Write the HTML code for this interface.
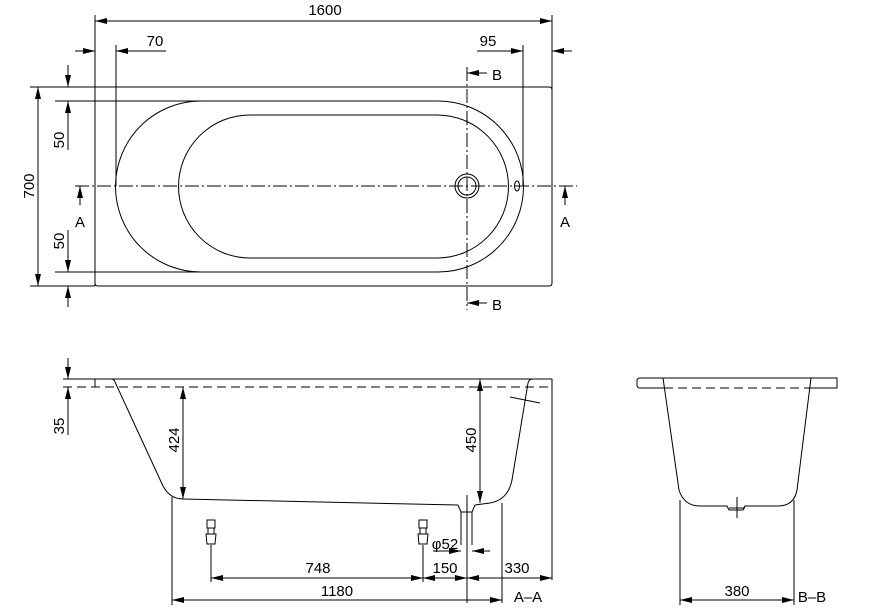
<!DOCTYPE html>
<html><head><meta charset="utf-8"><style>
html,body{margin:0;padding:0;background:#fff;}
svg{display:block;}
text{font-family:"Liberation Sans",sans-serif;font-size:15px;fill:#000;}
</style></head><body>
<svg width="883" height="610" viewBox="0 0 883 610" xmlns="http://www.w3.org/2000/svg">
<defs>
<marker id="a" viewBox="0 0 12 6" refX="12" refY="3" markerWidth="12" markerHeight="6" orient="auto-start-reverse" markerUnits="userSpaceOnUse"><path d="M0,0L12,3L0,6z" fill="#000"/></marker>
</defs>
<g stroke="#000" stroke-width="1" fill="none">
<!-- TOP VIEW -->
<line x1="95" y1="15" x2="95" y2="286"/>
<line x1="552" y1="15" x2="552" y2="270"/>
<line x1="95" y1="21" x2="552" y2="21" marker-start="url(#a)" marker-end="url(#a)"/>
<line x1="75" y1="51" x2="95" y2="51" marker-end="url(#a)"/>
<line x1="166" y1="51" x2="116" y2="51" marker-end="url(#a)"/>
<line x1="116" y1="45" x2="116" y2="186"/>
<line x1="477" y1="51" x2="523" y2="51" marker-end="url(#a)"/>
<line x1="572" y1="51" x2="552" y2="51" marker-end="url(#a)"/>
<line x1="523" y1="45" x2="523" y2="186"/>
<path d="M95,87H549Q552,87 552,90V283Q552,286 549,286H98Q95,286 95,283Z"/>
<line x1="467" y1="67" x2="467" y2="310" stroke-dasharray="14,3,2,3"/>
<line x1="487" y1="73" x2="467" y2="73" marker-end="url(#a)"/>
<line x1="487" y1="303" x2="467" y2="303" marker-end="url(#a)"/>
<line x1="30" y1="87" x2="95" y2="87"/>
<line x1="30" y1="286" x2="95" y2="286"/>
<line x1="38" y1="87" x2="38" y2="286" marker-start="url(#a)" marker-end="url(#a)"/>
<line x1="55" y1="101" x2="200" y2="101"/>
<line x1="55" y1="272" x2="200" y2="272"/>
<line x1="68" y1="65" x2="68" y2="87" marker-end="url(#a)"/>
<line x1="68" y1="150" x2="68" y2="101" marker-end="url(#a)"/>
<line x1="68" y1="230" x2="68" y2="272" marker-end="url(#a)"/>
<line x1="68" y1="307" x2="68" y2="286" marker-end="url(#a)"/>
<path d="M201,101H438A85.5,85.5 0 0 1 438,272H201A85.5,85.5 0 0 1 201,101Z"/>
<path d="M250,115H437A71.5,71.5 0 0 1 437,258H250A71.5,71.5 0 0 1 250,115Z"/>
<line x1="75" y1="186" x2="577" y2="186" stroke-dasharray="14,3,2,3"/>
<circle cx="467" cy="186" r="12"/>
<circle cx="467" cy="186" r="9"/>
<ellipse cx="517" cy="186" rx="2.5" ry="5"/>
<line x1="80" y1="205" x2="80" y2="186" marker-end="url(#a)"/>
<line x1="565" y1="205" x2="565" y2="186" marker-end="url(#a)"/>
<!-- A-A -->
<line x1="63" y1="379" x2="552" y2="379"/>
<line x1="63" y1="387" x2="552" y2="387" stroke-dasharray="9,5"/>
<line x1="95" y1="379" x2="95" y2="387"/>
<line x1="552" y1="379" x2="552" y2="580"/>
<path d="M111,379Q114,379 115,382L163,486Q170,499 183,499L458,505"/>
<path d="M475,505L490,503Q508,500 512,480L528,383Q529,379 533,379"/>
<path d="M458,505L461,512V545M475,505L472,512V545M461,512H472"/>
<line x1="510" y1="397" x2="540" y2="403"/>
<line x1="183" y1="387" x2="183" y2="499" marker-start="url(#a)" marker-end="url(#a)"/>
<line x1="480" y1="379" x2="480" y2="503" marker-start="url(#a)" marker-end="url(#a)"/>
<line x1="68" y1="358" x2="68" y2="379" marker-end="url(#a)"/>
<line x1="68" y1="435" x2="68" y2="387" marker-end="url(#a)"/>
<line x1="467" y1="495" x2="467" y2="603"/>
<line x1="172" y1="497" x2="172" y2="605"/>
<line x1="502" y1="503" x2="502" y2="603"/>
<line x1="211" y1="545" x2="211" y2="582"/>
<line x1="423" y1="545" x2="423" y2="582"/>
<path d="M207,520h8v8h-8zM208,528h6v6h-6zM206,534h10l-1,10h-8z"/>
<path d="M419,520h8v8h-8zM420,528h6v6h-6zM418,534h10l-1,10h-8z"/>
<line x1="211" y1="578" x2="423" y2="578" marker-start="url(#a)" marker-end="url(#a)"/>
<line x1="423" y1="578" x2="467" y2="578" marker-start="url(#a)" marker-end="url(#a)"/>
<line x1="467" y1="578" x2="552" y2="578" marker-start="url(#a)" marker-end="url(#a)"/>
<line x1="172" y1="600" x2="502" y2="600" marker-start="url(#a)" marker-end="url(#a)"/>
<line x1="433" y1="551" x2="461" y2="551" marker-end="url(#a)"/>
<line x1="490" y1="551" x2="472" y2="551" marker-end="url(#a)"/>
<!-- B-B -->
<path d="M664,388H640Q637,388 637,385V381Q637,378 640,378H837V388H811"/>
<line x1="664" y1="388" x2="811" y2="388" stroke-dasharray="9,5"/>
<path d="M663,378L679,490Q684,506 700,506H727L729,510H743L745,506H778Q794,506 797,490L811,378"/>
<line x1="737" y1="497" x2="737" y2="518"/>
<line x1="729" y1="508" x2="745" y2="508"/>
<line x1="680" y1="500" x2="680" y2="605"/>
<line x1="794" y1="500" x2="794" y2="605"/>
<line x1="680" y1="600" x2="794" y2="600" marker-start="url(#a)" marker-end="url(#a)"/>
</g>
<text x="325" y="15" text-anchor="middle">1600</text>
<text x="155" y="46" text-anchor="middle">70</text>
<text x="488" y="46" text-anchor="middle">95</text>
<text x="497" y="80" text-anchor="middle" font-size="17">B</text>
<text x="497" y="310" text-anchor="middle" font-size="17">B</text>
<text x="80" y="227" text-anchor="middle" font-size="17">A</text>
<text x="565" y="227" text-anchor="middle" font-size="17">A</text>
<text transform="translate(34,186) rotate(-90)" text-anchor="middle">700</text>
<text transform="translate(64,140) rotate(-90)" text-anchor="middle">50</text>
<text transform="translate(64,241) rotate(-90)" text-anchor="middle">50</text>
<text transform="translate(64,426) rotate(-90)" text-anchor="middle">35</text>
<text transform="translate(179,440) rotate(-90)" text-anchor="middle">424</text>
<text transform="translate(476,440) rotate(-90)" text-anchor="middle">450</text>
<text x="318" y="573" text-anchor="middle">748</text>
<text x="445" y="573" text-anchor="middle">150</text>
<text x="517" y="573" text-anchor="middle">330</text>
<text x="337" y="596" text-anchor="middle">1180</text>
<text x="445" y="549" text-anchor="middle">φ52</text>
<text x="528" y="602" text-anchor="middle" font-size="17">A–A</text>
<text x="737" y="596" text-anchor="middle">380</text>
<text x="812" y="602" text-anchor="middle" font-size="17">B–B</text>
</svg>
</body></html>
